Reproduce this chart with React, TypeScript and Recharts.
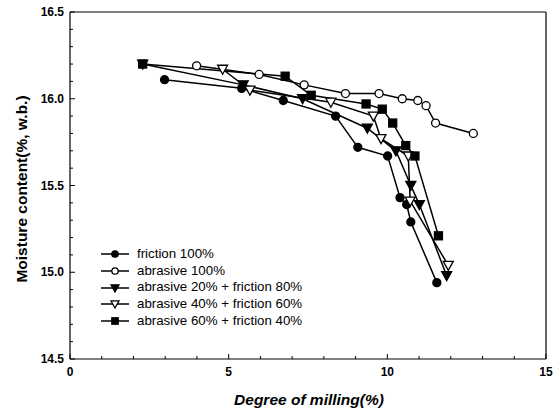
import React from "react";
import { LineChart, Line, XAxis, YAxis, ReferenceLine, Legend } from "recharts";

// degree of milling (%) and moisture content (%, w.b.) for each treatment
const frictionDom = [2.98, 5.41, 6.72, 8.37, 9.07, 10.01, 10.4, 10.61, 10.74, 11.56];
const frictionMc = [16.11, 16.06, 15.99, 15.9, 15.72, 15.67, 15.43, 15.39, 15.29, 14.94];

const abrasiveDom = [3.99, 5.96, 7.38, 8.68, 9.74, 10.47, 10.96, 11.22, 11.52, 12.71];
const abrasiveMc = [16.19, 16.14, 16.08, 16.03, 16.03, 16.0, 15.99, 15.96, 15.86, 15.8];

const ab20Dom = [2.29, 5.46, 7.33, 9.37, 10.27, 10.74, 11.01, 11.87];
const ab20Mc = [16.2, 16.08, 16.0, 15.83, 15.7, 15.5, 15.39, 14.98];

const ab40Dom = [4.81, 5.67, 8.22, 9.56, 9.8, 10.66, 10.72, 11.92];
const ab40Mc = [16.17, 16.05, 15.98, 15.9, 15.77, 15.67, 15.41, 15.04];

const ab60Dom = [2.29, 6.78, 7.6, 9.33, 9.84, 10.17, 10.58, 10.87, 11.61];
const ab60Mc = [16.2, 16.13, 16.02, 15.97, 15.94, 15.86, 15.73, 15.67, 15.21];

const xTicks = [0, 1, 2, 3, 4, 5, 6, 7, 8, 9, 10, 11, 12, 13, 14, 15];
const yTicks = [
  14.5, 14.6, 14.7, 14.8, 14.9, 15.0, 15.1, 15.2, 15.3, 15.4, 15.5,
  15.6, 15.7, 15.8, 15.9, 16.0, 16.1, 16.2, 16.3, 16.4, 16.5,
];

const zip = (xs: number[], ys: number[]) => xs.map((x, i) => ({ x, y: ys[i] }));

const series = [
  { name: "friction 100%", shape: "circle", filled: true, data: zip(frictionDom, frictionMc) },
  { name: "abrasive 100%", shape: "circle", filled: false, data: zip(abrasiveDom, abrasiveMc) },
  { name: "abrasive 20% + friction 80%", shape: "triangle", filled: true, data: zip(ab20Dom, ab20Mc) },
  { name: "abrasive 40% + friction 60%", shape: "triangle", filled: false, data: zip(ab40Dom, ab40Mc) },
  { name: "abrasive 60% + friction 40%", shape: "square", filled: true, data: zip(ab60Dom, ab60Mc) },
];

const FONT = "Arial, 'Liberation Sans', sans-serif";

function Marker({ cx, cy, shape, filled, r = 4 }: any) {
  const fill = filled ? "#000" : "#fff";
  const common = { fill, stroke: "#000", strokeWidth: 1.3 };
  if (shape === "square") return <rect x={cx - r} y={cy - r} width={2 * r} height={2 * r} {...common} />;
  if (shape === "triangle") {
    const w = r * 1.25;
    return <polygon points={`${cx - w},${cy - r} ${cx + w},${cy - r} ${cx},${cy + w}`} {...common} />;
  }
  return <circle cx={cx} cy={cy} r={r} {...common} />;
}

function XTick({ x, y, payload }: any) {
  const major = payload.value % 5 === 0;
  return (
    <g>
      <line x1={x} y1={y} x2={x} y2={y - (major ? 5 : 3)} stroke="#000" strokeWidth={1} />
      {major && (
        <text x={x} y={y + 17} textAnchor="middle" fontSize={12} fontWeight="bold" fontFamily={FONT} fill="#000">
          {payload.value}
        </text>
      )}
    </g>
  );
}

function YTick({ x, y, payload }: any) {
  const major = Math.round(payload.value * 10) % 5 === 0;
  return (
    <g>
      <line x1={x} y1={y} x2={x + (major ? 5 : 3)} y2={y} stroke="#000" strokeWidth={1} />
      {major && (
        <text x={x - 6} y={y + 4} textAnchor="end" fontSize={12} fontWeight="bold" fontFamily={FONT} fill="#000">
          {payload.value.toFixed(1)}
        </text>
      )}
    </g>
  );
}

function LegendBox() {
  return (
    <div style={{ fontFamily: FONT, fontSize: 13.3, color: "#000", lineHeight: "16.7px" }}>
      {series.map((s) => (
        <div key={s.name} style={{ display: "flex", alignItems: "center", height: 16.7 }}>
          <svg width={30} height={12} style={{ marginRight: 7 }}>
            <line x1={1} y1={6} x2={29} y2={6} stroke="#000" strokeWidth={1.5} />
            <Marker cx={15} cy={6} shape={s.shape} filled={s.filled} r={3.2} />
          </svg>
          <span>{s.name}</span>
        </div>
      ))}
    </div>
  );
}

export default function App() {
  return (
    <div style={{ position: "absolute", left: 0, top: 0, width: 554, height: 416, background: "#fff" }}>
      <LineChart width={554} height={416} margin={{ top: 12, right: 8, left: 0, bottom: 0 }}>
        <XAxis
          type="number"
          dataKey="x"
          domain={[0, 15]}
          ticks={xTicks}
          interval={0}
          tickSize={0}
          tickMargin={0}
          tickLine={false}
          tick={<XTick />}
          height={57}
          axisLine={{ stroke: "#000", strokeWidth: 1.2 }}
          allowDuplicatedCategory={false}
          label={{
            content: () => (
              <text x={309} y={405} textAnchor="middle" fontSize={15.5} fontWeight="bold" fontStyle="italic" fontFamily={FONT} fill="#000">
                Degree of milling(%)
              </text>
            ),
          }}
        />
        <YAxis
          type="number"
          dataKey="y"
          domain={[14.5, 16.5]}
          ticks={yTicks}
          interval={0}
          tickSize={0}
          tickMargin={0}
          tickLine={false}
          tick={<YTick />}
          width={70}
          axisLine={{ stroke: "#000", strokeWidth: 1.2 }}
          label={{
            content: () => (
              <text
                transform="translate(27,189) rotate(-90)"
                textAnchor="middle"
                fontSize={15.5}
                fontWeight="bold"
                fontFamily={FONT}
                fill="#000"
              >
                Moisture content(%, w.b.)
              </text>
            ),
          }}
        />
        <ReferenceLine y={16.5} stroke="#000" strokeWidth={1.2} />
        <ReferenceLine x={15} stroke="#000" strokeWidth={1.2} />
        {series.map((s) => (
          <Line
            key={s.name}
            data={s.data}
            dataKey="y"
            name={s.name}
            type="linear"
            stroke="#000"
            strokeWidth={1.5}
            isAnimationActive={false}
            dot={(p: any) => <Marker key={p.index} cx={p.cx} cy={p.cy} shape={s.shape} filled={s.filled} />}
            activeDot={false}
          />
        ))}
        <Legend
          layout="vertical"
          align="center"
          verticalAlign="middle"
          content={() => <LegendBox />}
          wrapperStyle={{ position: "absolute", left: 100, top: 246, width: 240 }}
        />
      </LineChart>
    </div>
  );
}
